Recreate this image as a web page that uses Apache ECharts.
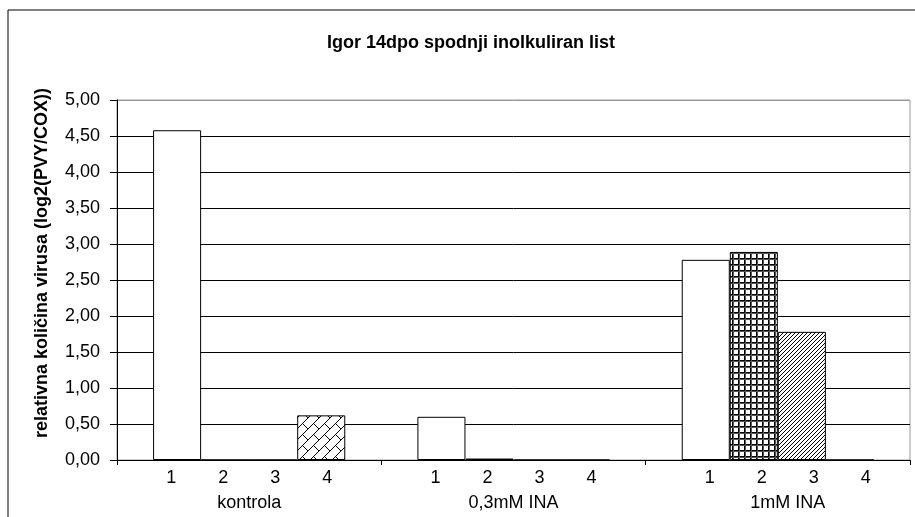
<!DOCTYPE html>
<html>
<head>
<meta charset="utf-8">
<script src="https://cdn.jsdelivr.net/npm/echarts@6/dist/echarts.min.js"></script>
<style>
  html, body { margin: 0; padding: 0; background: #fff; }
  #chart { width: 915px; height: 517px; }
</style>
</head>
<body>
<div id="chart"></div>
<script>
// podatki
const groups = ['kontrola', '0,3mM INA', '1mM INA']
const subLabels = ['1', '2', '3', '4']
const seriesNames = ['1', '2', '3', '4']
const values1 = [4.58, 0.60, 2.78]
const values2 = [0, 0.02, 2.89]
const values3 = [0, 0, 1.78]
const values4 = [0.62, 0, 0]
const yTicks = [0, 0.5, 1, 1.5, 2, 2.5, 3, 3.5, 4, 4.5, 5]

// vzorci polnila (kot v Excelu)
function makePattern (kind) {
    const c = document.createElement('canvas')
    const ctx = c.getContext('2d')
    if (kind === 'grid') {
        c.width = 6; c.height = 6
        ctx.fillStyle = '#fff'
        ctx.fillRect(0, 0, 6, 6)
        ctx.fillStyle = '#000'
        ctx.fillRect(0, 0, 6, 1)
        ctx.fillRect(0, 0, 1, 6)
        ctx.fillStyle = '#555'
        ctx.fillRect(0, 1, 6, 1)
        ctx.fillRect(1, 0, 1, 6)
    } else if (kind === 'diag') {
        c.width = 4; c.height = 4
        ctx.fillStyle = '#fff'
        ctx.fillRect(0, 0, 4, 4)
        ctx.fillStyle = '#000'
        for (let i = 0; i < 4; i++) ctx.fillRect(3 - i, i, 1, 1)
    } else if (kind === 'brick') {
        c.width = 11; c.height = 11
        ctx.fillStyle = '#fff'
        ctx.fillRect(0, 0, 11, 11)
        ctx.strokeStyle = '#000'
        ctx.lineWidth = 1
        ctx.beginPath()
        ctx.moveTo(-1, 12); ctx.lineTo(12, -1)
        ctx.moveTo(5.5, 5.5); ctx.lineTo(11.5, 11.5)
        ctx.stroke()
    }
    return { image: c, repeat: 'repeat' }
}

const white = '#fff'
// polnilo za vsak stolpec: [serija][skupina]
const fills = [
    [white, white, white],
    [white, white, makePattern('grid')],
    [white, white, makePattern('diag')],
    [makePattern('brick'), white, white]
]
const allValues = [values1, values2, values3, values4]

const fontFamily = '"Liberation Sans", Arial, sans-serif'

const series = seriesNames.map((name, si) => ({
    name: name,
    type: 'bar',
    barGap: '0%',
    barCategoryGap: '27.3%',
    data: allValues[si].map((v, gi) => ({
        value: v,
        itemStyle: { color: fills[si][gi] }
    })),
    itemStyle: {
        borderColor: '#000',
        borderWidth: 1
    },
    emphasis: { disabled: true }
}))

// zadnja skupina ima oznake malo zamaknjene v desno
const categoryData = groups.map((g, i) => i === 2
    ? { value: g, textStyle: { padding: [0, 0, 0, 20] } }
    : g)

// barve mrežnih črt, zgornja je siva (rob risalne površine)
const splitColors = yTicks.map((t, i) => i === yTicks.length - 1 ? '#999' : '#000')

const myChart = echarts.init(document.getElementById('chart'))
myChart.setOption({
    backgroundColor: '#fff',
    animation: false,
    title: {
        text: 'Igor 14dpo spodnji inolkuliran list',
        left: 466,
        top: 29,
        textAlign: 'center',
        textStyle: {
            fontFamily: fontFamily,
            fontSize: 18,
            fontWeight: 'bold',
            color: '#000'
        }
    },
    grid: {
        left: 117,
        right: 5,
        top: 100,
        bottom: 57,
        show: true,
        borderColor: '#999',
        borderWidth: 1,
        backgroundColor: 'transparent'
    },
    xAxis: {
        type: 'category',
        data: categoryData,
        axisLine: { lineStyle: { color: '#000', width: 1 } },
        axisTick: { show: true, length: 5, interval: 0, lineStyle: { color: '#000' } },
        axisLabel: {
            interval: 0,
            margin: 6,
            color: '#000',
            fontFamily: fontFamily,
            formatter: function (value) {
                return subLabels.map(s => '{n|' + s + '}').join('') + '\n{g|' + value + '}'
            },
            rich: {
                n: { width: 52, align: 'center', fontSize: 18, lineHeight: 24, fontFamily: fontFamily, color: '#000' },
                g: { fontSize: 18, lineHeight: 27, fontFamily: fontFamily, color: '#000' }
            }
        }
    },
    yAxis: {
        type: 'value',
        min: 0,
        max: 5,
        interval: 0.5,
        name: 'relativna količina virusa (log2(PVY/COX))',
        nameLocation: 'middle',
        nameRotate: 90,
        nameGap: 66,
        nameTextStyle: {
            fontFamily: fontFamily,
            fontSize: 18,
            fontWeight: 'bold',
            color: '#000',
            padding: [0, 0, 0, 34]
        },
        axisLine: { show: true, lineStyle: { color: '#000', width: 1 } },
        axisTick: { show: true, length: 7, lineStyle: { color: '#000' } },
        axisLabel: {
            margin: 17,
            color: '#000',
            fontFamily: fontFamily,
            fontSize: 18,
            formatter: v => v.toFixed(2).replace('.', ',')
        },
        splitLine: { show: true, lineStyle: { color: splitColors, width: 1 } }
    },
    graphic: [{
        type: 'rect',
        shape: { x: 8, y: 10, width: 1000, height: 1000 },
        style: { fill: 'none', stroke: '#000', lineWidth: 1 },
        silent: true
    }],
    series: series
})
window.addEventListener('resize', function () {
    myChart.resize()
})
</script>
</body>
</html>
